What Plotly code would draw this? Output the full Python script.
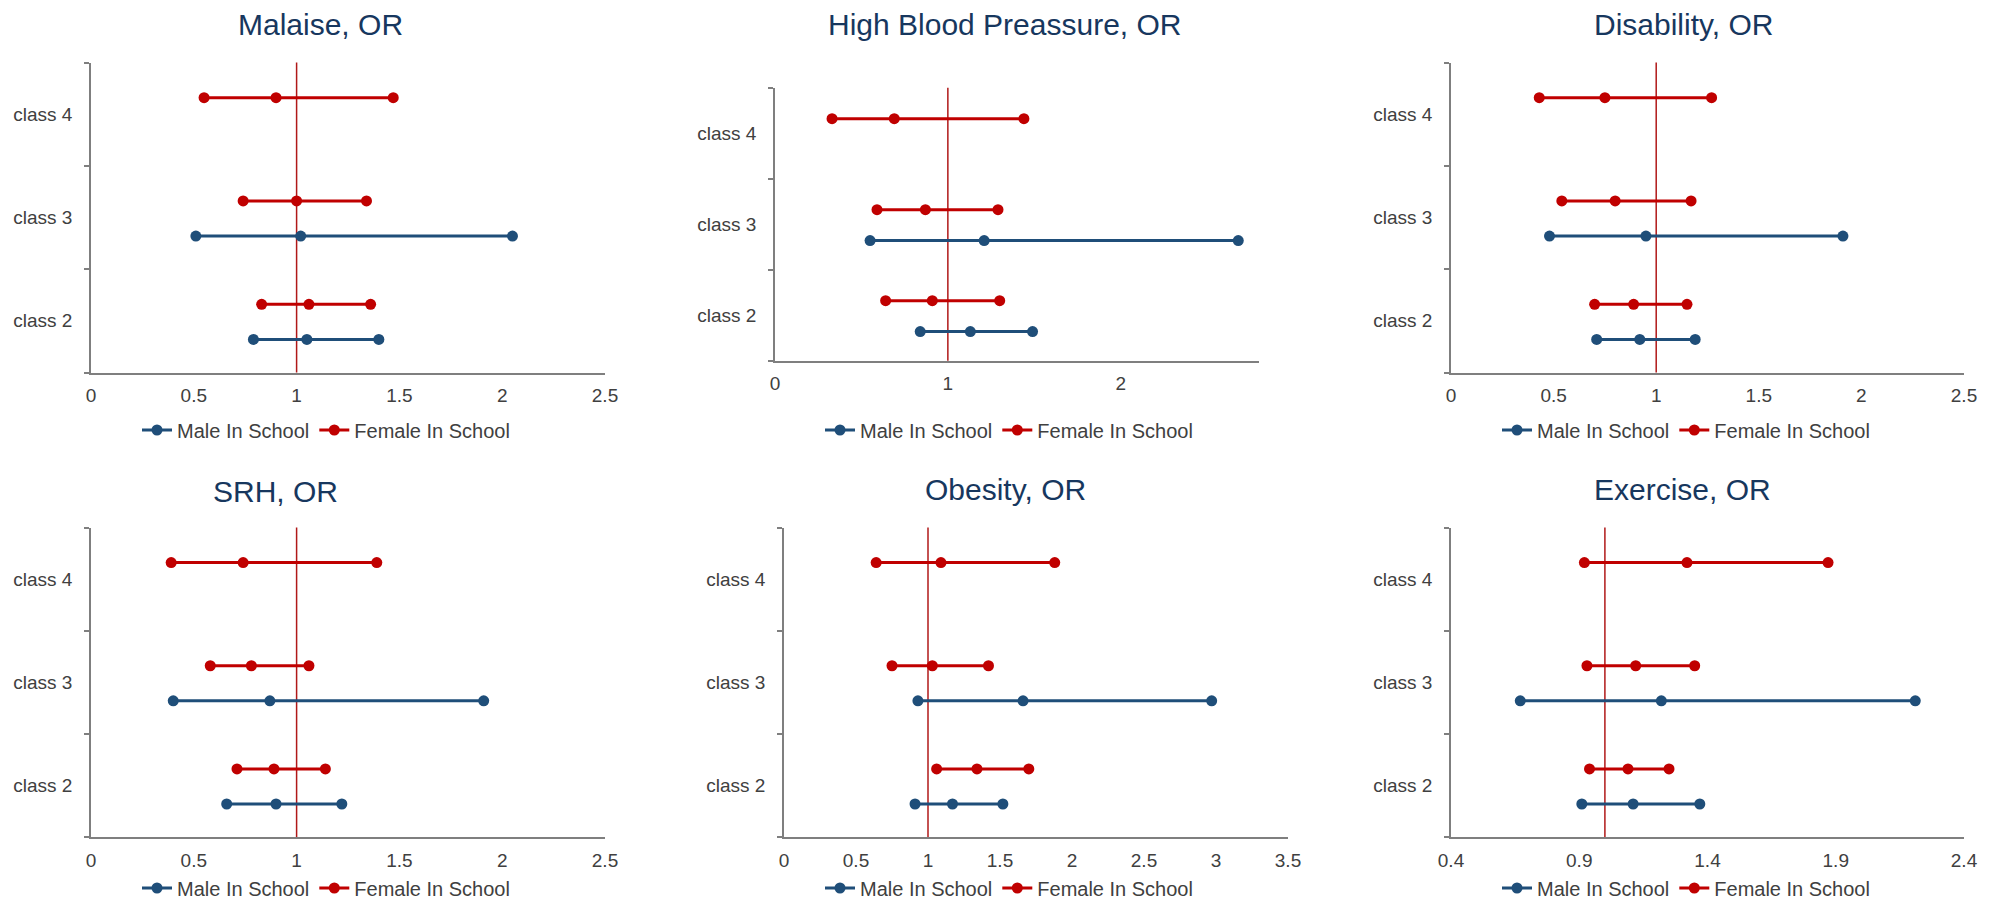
import plotly.graph_objects as go

W, H = 2003, 902

classes = ["class 2", "class 3", "class 4"]
series_names = ["Male In School", "Female In School"]

titles = ["Malaise, OR", "High Blood Preassure, OR", "Disability, OR",
          "SRH, OR", "Obesity, OR", "Exercise, OR"]

# [lower, OR, upper] per class (class 2, class 3, class 4); None = not shown
malaise_male = [[0.79, 1.05, 1.40], [0.51, 1.02, 2.05], None]
malaise_female = [[0.83, 1.06, 1.36], [0.74, 1.00, 1.34], [0.55, 0.90, 1.47]]

hbp_male = [[0.84, 1.13, 1.49], [0.55, 1.21, 2.68], None]
hbp_female = [[0.64, 0.91, 1.30], [0.59, 0.87, 1.29], [0.33, 0.69, 1.44]]

disability_male = [[0.71, 0.92, 1.19], [0.48, 0.95, 1.91], None]
disability_female = [[0.70, 0.89, 1.15], [0.54, 0.80, 1.17], [0.43, 0.75, 1.27]]

srh_male = [[0.66, 0.90, 1.22], [0.40, 0.87, 1.91], None]
srh_female = [[0.71, 0.89, 1.14], [0.58, 0.78, 1.06], [0.39, 0.74, 1.39]]

obesity_male = [[0.91, 1.17, 1.52], [0.93, 1.66, 2.97], None]
obesity_female = [[1.06, 1.34, 1.70], [0.75, 1.03, 1.42], [0.64, 1.09, 1.88]]

exercise_male = [[0.91, 1.11, 1.37], [0.67, 1.22, 2.21], None]
exercise_female = [[0.94, 1.09, 1.25], [0.93, 1.12, 1.35], [0.92, 1.32, 1.87]]

male_data = [malaise_male, hbp_male, disability_male, srh_male, obesity_male, exercise_male]
female_data = [malaise_female, hbp_female, disability_female, srh_female, obesity_female, exercise_female]

x_ranges = [[0, 2.5], [0, 2.8], [0, 2.5], [0, 2.5], [0, 3.5], [0.4, 2.4]]
x_dticks = [0.5, 1, 0.5, 0.5, 0.5, 0.5]
x_tick0 = [0, 0, 0, 0, 0, 0.4]
ref_value = 1.0

# layout (pixels)
plot_boxes = [  # x0, x1, ytop, ybottom
    (91, 605, 62.5, 372.5),
    (775, 1259, 87.7, 360.7),
    (1451, 1964, 62.5, 372.5),
    (91, 605, 527.5, 837),
    (784, 1288, 527.5, 837),
    (1451, 1964, 527.5, 837),
]
title_pos = [(320, 25), (1005, 25), (1683, 25), (275, 492), (1005, 489), (1682, 489)]
legend_pos = [(326, 430), (1009, 430), (1686, 430), (326, 888), (1009, 888), (1686, 888)]

MALE_COLOR = "#1F4E79"
FEMALE_COLOR = "#C00000"
REF_COLOR = "#B01818"
AXIS_COLOR = "#7F7F7F"
TEXT_COLOR = "#404040"
TITLE_COLOR = "#17375E"
FONT = "Liberation Sans, Arial, sans-serif"

male_offset = -0.18
female_offset = 0.16

fig = go.Figure()
layout_extra = {}
annotations = []
shapes = []

for i in range(6):
    n = i + 1
    xa = "x" if n == 1 else f"x{n}"
    ya = "y" if n == 1 else f"y{n}"
    leg = "legend" if n == 1 else f"legend{n}"
    for name, data, color, off in [(series_names[0], male_data[i], MALE_COLOR, male_offset),
                                   (series_names[1], female_data[i], FEMALE_COLOR, female_offset)]:
        xs, ys = [], []
        for ci, trip in enumerate(data):
            if trip is None:
                continue
            xs += list(trip) + [None]
            ys += [ci + off] * 3 + [None]
        fig.add_trace(go.Scatter(
            x=xs, y=ys, mode="lines+markers", name=name,
            line=dict(color=color, width=3),
            marker=dict(color=color, size=11),
            xaxis=xa, yaxis=ya, legend=leg, connectgaps=False,
            hoverinfo="skip",
        ))
    x0, x1, yt, yb = plot_boxes[i]
    xkey = "xaxis" if n == 1 else f"xaxis{n}"
    ykey = "yaxis" if n == 1 else f"yaxis{n}"
    layout_extra[xkey] = dict(
        domain=[x0 / W, x1 / W], anchor=ya, range=x_ranges[i],
        tick0=x_tick0[i], dtick=x_dticks[i], tickmode="linear",
        showgrid=False, zeroline=False, showline=True, linecolor=AXIS_COLOR, linewidth=1.5,
        ticks="", ticklabelstandoff=5,
        tickfont=dict(family=FONT, size=19, color=TEXT_COLOR),
    )
    layout_extra[ykey] = dict(
        domain=[1 - yb / H, 1 - yt / H], anchor=xa, range=[-0.5, 2.5],
        tickmode="array", tickvals=[0, 1, 2], ticktext=classes,
        showgrid=False, zeroline=False, showline=True, linecolor=AXIS_COLOR, linewidth=1.5,
        ticks="", ticklabelstandoff=13,
        minor=dict(tickmode="array", tickvals=[-0.5, 0.5, 1.5, 2.5], ticks="outside",
                   ticklen=5, tickcolor=AXIS_COLOR, tickwidth=1.5),
        tickfont=dict(family=FONT, size=19, color=TEXT_COLOR),
    )
    shapes.append(dict(type="line", xref=xa, yref=f"{ya} domain", x0=ref_value, x1=ref_value,
                       y0=0, y1=1, line=dict(color=REF_COLOR, width=1.5), layer="below"))
    tx, ty = title_pos[i]
    annotations.append(dict(text=titles[i], x=tx / W, y=1 - ty / H, xref="paper", yref="paper",
                            xanchor="center", yanchor="middle", showarrow=False,
                            font=dict(family=FONT, size=30, color=TITLE_COLOR)))
    lx, ly = legend_pos[i]
    layout_extra[leg] = dict(
        orientation="h", x=lx / W, xanchor="center",
        y=1 - ly / H, yanchor="middle",
        font=dict(family=FONT, size=20, color=TEXT_COLOR),
        itemwidth=30, bgcolor="rgba(0,0,0,0)", tracegroupgap=0,
    )

fig.update_layout(
    width=W, height=H,
    margin=dict(l=0, r=0, t=0, b=0, autoexpand=False),
    paper_bgcolor="white", plot_bgcolor="white",
    annotations=annotations, shapes=shapes,
    **layout_extra,
)

fig.write_html("out.html")
